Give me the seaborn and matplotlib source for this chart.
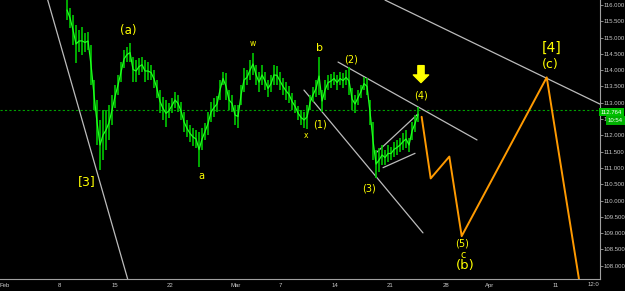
import numpy as np
import pandas as pd
import matplotlib
matplotlib.use("Agg")
import matplotlib.pyplot as plt
import seaborn as sns

# ---------------- data (trading-day axis: 0 = Feb 1, weekends skipped) ----------------
bar_start = 5.67      # first visible bar (trading days)
bar_step = 0.272      # spacing between sampled bars (trading days)
bar_high = [116.15, 115.91, 115.69, 115.39, 115.23, 115.33, 115.14, 115.17, 114.77, 113.70,
            113.09, 112.47, 112.78, 112.78, 112.93, 113.24, 113.55, 113.85, 114.25, 114.62,
            114.71, 114.83, 114.40, 114.31, 114.37, 114.40, 114.31, 114.25, 114.16, 114.01,
            113.70, 113.39, 113.18, 113.09, 112.99, 113.15, 113.33, 113.24, 113.02, 112.72,
            112.47, 112.32, 112.23, 112.17, 112.10, 112.23, 112.38, 112.72, 113.02, 113.15,
            113.21, 113.70, 113.94, 113.91, 113.39, 113.24, 112.93, 112.93, 113.55, 114.07,
            114.01, 114.31, 114.53, 114.16, 113.94, 114.16, 113.94, 113.70, 113.85, 114.16,
            114.13, 113.94, 113.76, 113.64, 113.52, 113.30, 113.09, 112.90, 112.78, 112.72,
            112.93, 113.24, 113.48, 113.70, 114.40, 113.39, 113.70, 113.85, 113.88, 113.94,
            113.85, 113.94, 113.91, 114.01, 114.10, 113.45, 113.24, 113.39, 113.55, 113.79,
            113.76, 113.09, 112.41, 111.55, 111.61, 111.71, 111.55, 111.71, 111.64, 111.80,
            111.86, 111.92, 112.07, 112.17, 111.92, 112.41, 112.63, 112.87]
bar_low = [115.54, 115.29, 114.77, 114.22, 114.56, 114.47, 114.56, 114.62, 113.55, 112.78,
           111.71, 110.94, 111.25, 111.55, 111.86, 112.32, 112.84, 113.24, 113.64, 114.07,
           114.25, 114.25, 113.64, 113.64, 113.85, 113.94, 113.64, 113.70, 113.70, 113.45,
           113.15, 112.69, 112.47, 112.26, 112.53, 112.69, 112.84, 112.72, 112.47, 112.10,
           111.95, 111.80, 111.67, 111.61, 111.03, 111.55, 111.86, 112.01, 112.41, 112.56,
           112.72, 113.09, 113.55, 113.09, 112.78, 112.72, 112.32, 112.23, 112.93, 113.33,
           113.55, 113.70, 113.85, 113.55, 113.33, 113.55, 113.39, 113.18, 113.33, 113.55,
           113.55, 113.39, 113.24, 113.09, 112.99, 112.78, 112.69, 112.47, 112.32, 112.23,
           112.20, 112.78, 113.02, 113.18, 113.24, 112.72, 113.09, 113.39, 113.45, 113.55,
           113.39, 113.55, 113.45, 113.55, 113.24, 112.78, 112.69, 112.93, 113.15, 113.39,
           113.24, 112.32, 111.25, 110.69, 110.88, 111.09, 111.09, 111.18, 111.25, 111.34,
           111.40, 111.49, 111.55, 111.61, 111.49, 111.86, 112.10, 112.41]
last_price = 112.764
last_price_text = "112.764"
timer_text = "10:54"

# trend lines (two anchor points each: trading day, price)
left_line_days = [3.92, 11.17]
left_line_prices = [116.15, 107.59]
top_line_days = [34.50, 53.99]
top_line_prices = [116.15, 112.96]
chan_upper_days = [30.24, 42.84]
chan_upper_prices = [114.25, 111.86]
chan_lower_days = [27.15, 37.94]
chan_lower_prices = [113.39, 109.01]
wedge_upper_days = [33.77, 37.49]
wedge_upper_prices = [111.49, 112.66]
wedge_lower_days = [34.32, 37.22]
wedge_lower_prices = [111.01, 111.45]

# projected path (orange)
proj_days = [37.82, 38.64, 40.33, 41.45, 49.16, 52.08]
proj_prices = [112.57, 110.68, 111.35, 108.91, 113.78, 107.60]

# wave labels
wave_labels = ["(a)", "[3]", "a", "w", "b", "x", "(1)", "(2)", "(3)", "(4)",
               "(5)", "c", "(b)", "[4]", "(c)"]
wave_days = [11.22, 7.48, 17.81, 22.53, 28.60, 27.33, 28.60, 31.39, 33.07, 37.72,
             41.50, 41.60, 41.75, 49.61, 49.52]
wave_prices = [115.23, 110.60, 110.74, 114.82, 114.67, 112.01, 112.34, 114.33, 110.37, 113.21,
               108.67, 108.33, 108.00, 114.67, 114.16]
wave_sizes = [8.5, 9, 7, 5.5, 8, 5.5, 7, 7, 7, 7, 7, 7, 9.5, 10, 9]

# axes ticks
x_tick_days = [0, 5, 10, 15, 21, 25, 30, 35, 40, 44, 50]
x_tick_labels = ["Feb", "8", "15", "22", "Mar", "7", "14", "21", "28", "Apr", "11"]
y_tick_values = [108.0, 108.5, 109.0, 109.5, 110.0, 110.5, 111.0, 111.5, 112.0, 112.5,
                 113.0, 113.5, 114.0, 114.5, 115.0, 115.5, 116.0]

# ---------------- style ----------------
sns.set_theme(style="dark")
plt.rcParams.update({
    "axes.facecolor": "black",
    "figure.facecolor": "black",
    "savefig.facecolor": "black",
    "axes.grid": False,
})
plt.rcParams["font.family"] = ["DejaVu Sans"]

W, H = 625, 291
fig = plt.figure(figsize=(W / 100, H / 100), dpi=100)
ax = fig.add_axes([0, 12 / H, 600 / W, 279 / H])
ax.set_facecolor("black")

GREEN = "#00c800"
GREY = "#bcbcbc"
ORANGE = "#ff9a00"
YELLOW = "#ffff00"

# current price dashed line
ax.axhline(last_price, color="#00a000", lw=0.8, ls=(0, (2, 2)), zorder=1)

# bars
days = bar_start + bar_step * np.arange(len(bar_high))
bars = pd.DataFrame({"day": days, "high": bar_high, "low": bar_low})
bars["mid"] = (bars["high"] + bars["low"]) / 2
ax.vlines(bars["day"], bars["low"], bars["high"], color=GREEN, lw=1.2, zorder=3)
sns.lineplot(data=bars, x="day", y="mid", ax=ax, color="#20ff20", lw=0.9,
             estimator=None, sort=False, zorder=4)

# trend lines
for dd, pp in [(left_line_days, left_line_prices), (top_line_days, top_line_prices),
               (chan_upper_days, chan_upper_prices), (chan_lower_days, chan_lower_prices),
               (wedge_upper_days, wedge_upper_prices), (wedge_lower_days, wedge_lower_prices)]:
    sns.lineplot(x=dd, y=pp, ax=ax, color=GREY, lw=0.9, estimator=None, sort=False, zorder=2)

# projection
proj = pd.DataFrame({"day": proj_days, "price": proj_prices})
sns.lineplot(data=proj, x="day", y="price", ax=ax, color=ORANGE, lw=1.4,
             estimator=None, sort=False, zorder=5)

# wave labels
for t, d, p, s in zip(wave_labels, wave_days, wave_prices, wave_sizes):
    ax.text(d, p, t, color=YELLOW, fontsize=s, ha="center", va="center", zorder=6)

# yellow down arrow
ax.annotate("", xy=(37.76, 113.62), xytext=(37.76, 114.14),
            arrowprops=dict(arrowstyle="simple,head_length=0.55,head_width=1.1,tail_width=0.45",
                            color=YELLOW, shrinkA=0, shrinkB=0, mutation_scale=10), zorder=6)

# axes
ax.set_xlim(-0.408, 53.99)
ax.set_ylim(107.595, 116.153)
ax.set_xlabel("")
ax.set_ylabel("")
ax.yaxis.tick_right()
ax.set_xticks(x_tick_days)
ax.set_xticklabels(x_tick_labels)
ax.set_yticks(y_tick_values)
ax.set_yticklabels([f"{v:.3f}" for v in y_tick_values])
tick_font = ["Liberation Sans Narrow", "Liberation Sans", "DejaVu Sans"]
ax.tick_params(axis="both", direction="out", length=2, width=0.6, color="#a0a0a0",
               labelcolor="#c8c8c8", labelsize=4.3, pad=0.8)
for lab in ax.get_xticklabels() + ax.get_yticklabels():
    lab.set_family(tick_font)
for side in ["top", "left"]:
    ax.spines[side].set_visible(False)
for side in ["right", "bottom"]:
    ax.spines[side].set_visible(True)
    ax.spines[side].set_color("#a0a0a0")
    ax.spines[side].set_linewidth(0.8)

# right-side boxes
fig.text(601 / W, 1 - 112 / H, last_price_text, color="white", fontsize=4.3,
         family=tick_font, ha="left", va="center",
         bbox=dict(boxstyle="square,pad=0.3", fc="#00c000", ec="none"))
fig.text(608 / W, 1 - 120.5 / H, timer_text, color="white", fontsize=4.3,
         family=tick_font, ha="left", va="center",
         bbox=dict(boxstyle="square,pad=0.3", fc="#00b000", ec="none"))
fig.text(593 / W, 1 - 285 / H, "12:0", color="#c8c8c8", fontsize=4.3,
         family=tick_font, ha="center", va="center")

fig.savefig("out.png", dpi=100, facecolor="black")
